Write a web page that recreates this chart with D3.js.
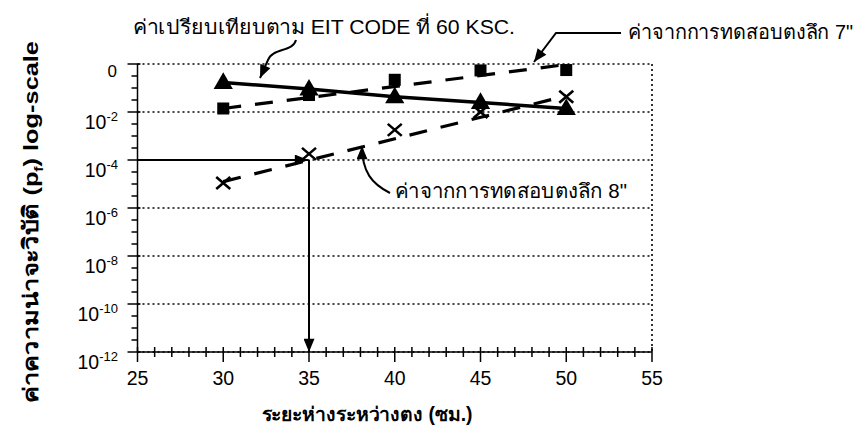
<!DOCTYPE html>
<html><head><meta charset="utf-8">
<script src="https://cdn.jsdelivr.net/npm/d3@7"></script>
<style>
html,body{margin:0;padding:0;background:#fff;}
svg{display:block;}
text{font-family:"Liberation Sans",Arial,"Noto Sans",sans-serif;fill:#000;}
</style></head>
<body>
<svg id="chart" width="863" height="442"></svg>
<script>
// ---- data ----
const spacing = [30, 35, 40, 45, 50];               // cm
const eitPf   = [0.17, 0.091, 0.043, 0.025, 0.014];  // EIT code 60 ksc
const test7Pf = [0.014, 0.051, 0.22, 0.54, 0.56];    // 7" joist test
const test8Pf = [1.1e-5, 1.8e-4, 1.8e-3, 0.010, 0.043]; // 8" joist test
const trend7  = [[30, 0.014], [50, 0.95]];
const trend8  = [[30, 1.25e-5], [50, 0.047]];
const readOff = {spacing: 35, pf: 1e-4};
const xTicks = [25, 30, 35, 40, 45, 50, 55];
const yMajorExp = [0, -2, -4, -6, -8, -10, -12];

const svg = d3.select("#chart");
const L = 137.5, R = 652, T = 64, B = 352;
const x = d3.scaleLinear().domain([25, 55]).range([L, R]);
const y = d3.scaleLog().domain([1e-12, 1]).range([B, T]);

// arrow marker
const defs = svg.append("defs");
defs.append("marker").attr("id","ah").attr("viewBox","0 0 12 10")
  .attr("refX",12).attr("refY",5).attr("markerWidth",14).attr("markerHeight",11)
  .attr("markerUnits","userSpaceOnUse").attr("orient","auto")
  .append("path").attr("d","M0,0 L12,5 L0,10 Z").attr("fill","#000");

// grid (dotted)
const grid = svg.append("g");
yMajorExp.forEach(e => {
  grid.append("line").attr("x1", L).attr("x2", R)
    .attr("y1", y(Math.pow(10, e))).attr("y2", y(Math.pow(10, e)))
    .attr("stroke", "#000").attr("stroke-width", 1.6).attr("stroke-dasharray", "2,3");
});
grid.append("line").attr("x1", R).attr("x2", R).attr("y1", T).attr("y2", B)
  .attr("stroke", "#000").attr("stroke-width", 1.6).attr("stroke-dasharray", "2,3");

// x axis
const xMinor = d3.range(25, 55.01, 1);
const gx = svg.append("g");
gx.append("line").attr("x1", L).attr("x2", R).attr("y1", B).attr("y2", B)
  .attr("stroke", "#000").attr("stroke-width", 1.5);
xMinor.forEach(v => {
  const major = xTicks.includes(v);
  gx.append("line").attr("x1", x(v)).attr("x2", x(v))
    .attr("y1", B - 5).attr("y2", major ? B + 10 : B + 5)
    .attr("stroke", "#000").attr("stroke-width", 1.5);
});
xTicks.forEach(v => {
  gx.append("text").attr("x", x(v)).attr("y", B + 33).attr("text-anchor", "middle")
    .attr("font-size", 19.5).text(v);
});

// y axis
const gy = svg.append("g");
gy.append("line").attr("x1", L).attr("x2", L).attr("y1", T).attr("y2", B)
  .attr("stroke", "#000").attr("stroke-width", 1.5);
d3.range(0, -12.01, -0.5).forEach(e => {
  const major = Number.isInteger(e) && e % 2 === 0;
  const yy = y(Math.pow(10, e));
  gy.append("line").attr("x1", major ? L - 10 : L - 6).attr("x2", major ? L + 3 : L)
    .attr("y1", yy).attr("y2", yy).attr("stroke", "#000").attr("stroke-width", 1.5);
});
yMajorExp.forEach(e => {
  const yy = y(Math.pow(10, e));
  if (e === 0) {
    gy.append("text").attr("x", 117).attr("y", yy + 13).attr("text-anchor", "end")
      .attr("font-size", 17).text("0");
  } else {
    const t = gy.append("text").attr("x", 118).attr("y", yy + 17).attr("text-anchor", "end")
      .attr("font-size", 19.5);
    t.append("tspan").text("10");
    t.append("tspan").attr("dy", -8).attr("font-size", 13).text(String(e));
  }
});

// series lines
const line = d3.line().x(d => x(d[0])).y(d => y(d[1]));
svg.append("path").datum(spacing.map((s, i) => [s, eitPf[i]]))
  .attr("d", line).attr("fill", "none").attr("stroke", "#000").attr("stroke-width", 3.5);
svg.append("path").datum(trend7).attr("d", line).attr("fill", "none")
  .attr("stroke", "#000").attr("stroke-width", 3.2).attr("stroke-dasharray", "18,14");
svg.append("path").datum(trend8).attr("d", line).attr("fill", "none")
  .attr("stroke", "#000").attr("stroke-width", 3.2).attr("stroke-dasharray", "18,14");

// read-off arrows
svg.append("line").attr("x1", x(25)).attr("x2", x(readOff.spacing) - 1)
  .attr("y1", y(readOff.pf)).attr("y2", y(readOff.pf))
  .attr("stroke", "#000").attr("stroke-width", 2).attr("marker-end", "url(#ah)");
svg.append("line").attr("x1", x(readOff.spacing)).attr("x2", x(readOff.spacing))
  .attr("y1", y(readOff.pf)).attr("y2", y(1e-12))
  .attr("stroke", "#000").attr("stroke-width", 2).attr("marker-end", "url(#ah)");

// markers
const tri = d3.symbol().type(d3.symbolTriangle).size(160);
svg.append("g").selectAll("path").data(spacing.map((s, i) => [s, eitPf[i]])).join("path")
  .attr("d", tri).attr("transform", d => `translate(${x(d[0])},${y(d[1]) + 1})`).attr("fill", "#000");
svg.append("g").selectAll("rect").data(spacing.map((s, i) => [s, test7Pf[i]])).join("rect")
  .attr("x", d => x(d[0]) - 6).attr("y", d => y(d[1]) - 6).attr("width", 12).attr("height", 12)
  .attr("fill", "#000");
const xs = svg.append("g").selectAll("g").data(spacing.map((s, i) => [s, test8Pf[i]])).join("g")
  .attr("transform", d => `translate(${x(d[0])},${y(d[1])})`);
xs.append("path").attr("d", "M-7,-6 L7,6 M-7,6 L7,-6").attr("stroke", "#000")
  .attr("stroke-width", 2.6).attr("fill", "none");

// annotations
const ann = svg.append("g");
ann.append("text").attr("x", 133).attr("y", 34).attr("font-size", 20)
  .attr("textLength", 382).attr("lengthAdjust", "spacingAndGlyphs")
  .text("ค่าเปรียบเทียบตาม EIT CODE ที่ 60 KSC.");
ann.append("path").attr("d", "M296,40 C293,52 272,48 268,60 L260,78")
  .attr("fill", "none").attr("stroke", "#000").attr("stroke-width", 2).attr("marker-end", "url(#ah)");

ann.append("text").attr("x", 628).attr("y", 39).attr("font-size", 20)
  .attr("textLength", 225).attr("lengthAdjust", "spacingAndGlyphs")
  .text("ค่าจากการทดสอบตงลึก 7\"");
ann.append("path").attr("d", "M621,33 L556,33 L534,62")
  .attr("fill", "none").attr("stroke", "#000").attr("stroke-width", 2).attr("marker-end", "url(#ah)");

ann.append("text").attr("x", 395).attr("y", 198).attr("font-size", 20)
  .attr("textLength", 232).attr("lengthAdjust", "spacingAndGlyphs")
  .text("ค่าจากการทดสอบตงลึก 8\"");
ann.append("path").attr("d", "M390,193 C372,184 362,172 362,146")
  .attr("fill", "none").attr("stroke", "#000").attr("stroke-width", 2).attr("marker-end", "url(#ah)");

// axis titles
svg.append("text").attr("x", 367).attr("y", 421).attr("text-anchor", "middle")
  .attr("font-size", 19.5).attr("font-weight", "bold")
  .attr("textLength", 211).attr("lengthAdjust", "spacingAndGlyphs")
  .text("ระยะห่างระหว่างตง (ซม.)");
const yt = svg.append("text").attr("transform", "translate(38,222) rotate(-90)")
  .attr("text-anchor", "middle").attr("font-size", 21).attr("font-weight", "bold")
  .attr("textLength", 362).attr("lengthAdjust", "spacingAndGlyphs");
yt.append("tspan").text("ค่าความน่าจะวิบัติ (p");
yt.append("tspan").attr("font-size", 13).attr("dy", 5).text("f");
yt.append("tspan").attr("dy", -5).text(") log-scale");
</script>
</body></html>
